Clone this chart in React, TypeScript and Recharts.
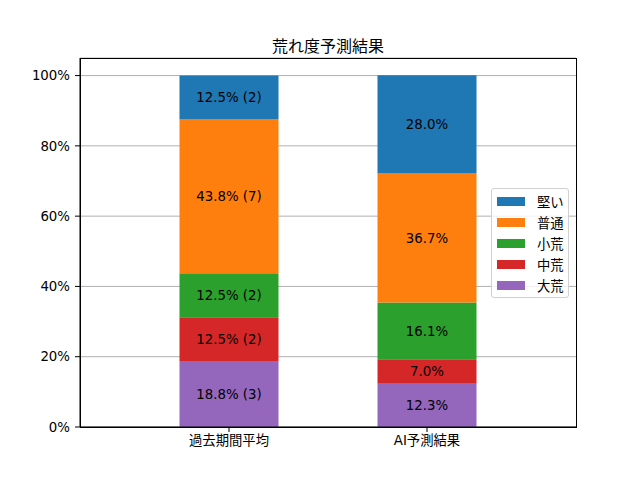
import { Bar, BarChart, CartesianGrid, LabelList, XAxis, YAxis } from "recharts";

const categories = ["過去期間平均", "AI予測結果"];
// stacked bottom to top
const levels = ["大荒", "中荒", "小荒", "普通", "堅い"];
const levelColors = ["#9467bd", "#d62728", "#2ca02c", "#ff7f0e", "#1f77b4"];
const pastCounts = [3, 2, 2, 7, 2];
const aiPercents = [12.3, 7.0, 16.1, 36.7, 28.0];
const yTicks = [0, 20, 40, 60, 80, 100];

const FONT = "'DejaVu Sans', 'Noto Sans CJK JP', sans-serif";
const FS = 13.33;

const pastTotal = pastCounts.reduce((a, b) => a + b, 0);

const rows: Record<string, string | number>[] = categories.map((name, ci) => {
  const row: Record<string, string | number> = { name };
  levels.forEach((lv, li) => {
    if (ci === 0) {
      const pct = (pastCounts[li] / pastTotal) * 100;
      row[lv] = pct;
      row[lv + "_label"] = `${pct.toFixed(1)}% (${pastCounts[li]})`;
    } else {
      row[lv] = aiPercents[li];
      row[lv + "_label"] = `${aiPercents[li].toFixed(1)}%`;
    }
  });
  return row;
});

function LegendBox() {
  const items = levels.map((lv, i) => ({ lv, color: levelColors[i] })).reverse();
  return (
    <div
      style={{
        position: "absolute",
        left: 491,
        top: 188,
        width: 78,
        height: 110,
        boxSizing: "border-box",
        border: "1px solid #d0d0d0",
        borderRadius: 3,
        background: "rgba(255,255,255,0.8)",
        padding: "2px 0 0 5px",
        fontFamily: FONT,
        fontSize: FS,
      }}
    >
      {items.map((it) => (
        <div key={it.lv} style={{ display: "flex", alignItems: "center", height: 21 }}>
          <span style={{ width: 28, height: 9, background: it.color, display: "inline-block" }} />
          <span style={{ marginLeft: 12, color: "#000" }}>{it.lv}</span>
        </div>
      ))}
    </div>
  );
}

export default function App() {
  return (
    <div style={{ position: "relative", width: 640, height: 480, margin: -8, fontFamily: FONT }}>
      <div
        style={{
          position: "absolute",
          left: 80,
          width: 496,
          top: 33,
          textAlign: "center",
          fontSize: 16,
          color: "#000",
        }}
      >
        荒れ度予測結果
      </div>
      <BarChart
        width={640}
        height={480}
        data={rows}
        margin={{ top: 58, right: 64, bottom: 0, left: 0 }}
        barCategoryGap="25%"
      >
        <CartesianGrid vertical={false} stroke="#b0b0b0" strokeWidth={1} />
        <XAxis
          dataKey="name"
          height={53}
          padding={{ left: 50, right: 50 }}
          tickSize={5}
          tickMargin={4}
          stroke="#000"
          tick={{ fill: "#000", fontSize: FS, fontFamily: FONT }}
        />
        <YAxis
          width={80}
          domain={[0, 105]}
          ticks={yTicks}
          tickFormatter={(v: number) => `${v}%`}
          tickSize={5}
          tickMargin={5}
          stroke="#000"
          tick={{ fill: "#000", fontSize: FS, fontFamily: FONT }}
        />
        {levels.map((lv, i) => (
          <Bar key={lv} dataKey={lv} stackId="a" fill={levelColors[i]} isAnimationActive={false}>
            <LabelList
              dataKey={lv + "_label"}
              position="center"
              fill="#000"
              fontSize={FS}
              fontFamily={FONT}
            />
          </Bar>
        ))}
      </BarChart>
      <LegendBox />
      <div
        style={{
          position: "absolute",
          left: 80,
          top: 58,
          width: 497,
          height: 370,
          border: "1px solid #000",
          boxSizing: "border-box",
          pointerEvents: "none",
        }}
      />
    </div>
  );
}
